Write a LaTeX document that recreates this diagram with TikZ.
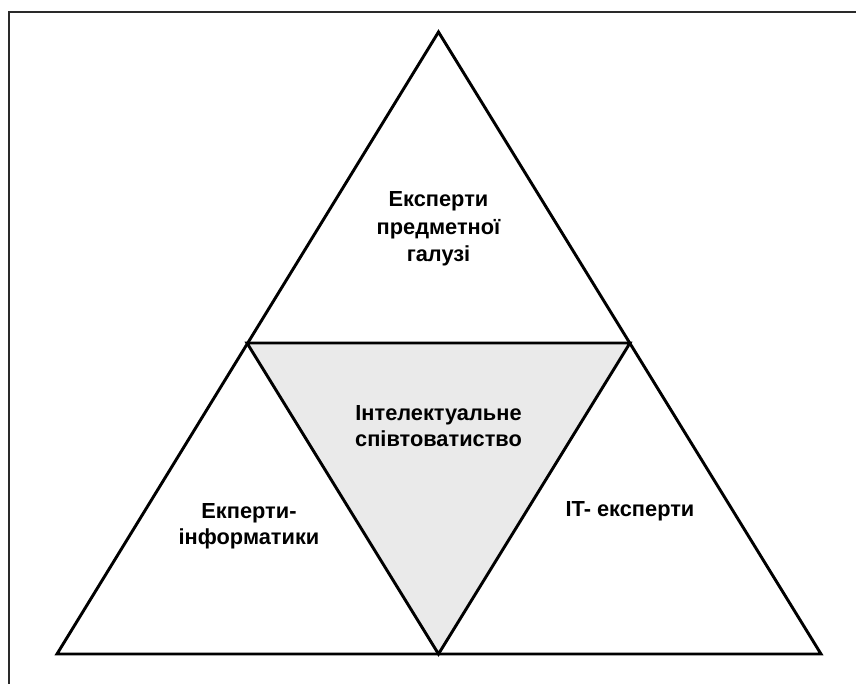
\documentclass[tikz,border=0pt]{standalone}
\usepackage{fontspec}
\setmainfont{Liberation Sans}
\usepackage{xcolor}
\usepackage{tikz}
\definecolor{midGray}{HTML}{EAEAEA}
\definecolor{frameDark}{HTML}{2A2A2A}
\tikzset{
  triedge/.style={draw=black,line width=2.5pt,line join=miter},
  framebar/.style={draw=frameDark,line width=1.8pt},
  grouplabel/.style={align=center,inner sep=0pt,
    font=\fontsize{18.6}{22}\selectfont\bfseries},
  toplabel/.style={grouplabel,font=\fontsize{18.6}{23.4}\selectfont\bfseries}
}
\begin{document}
\begin{tikzpicture}[x=0.03cm,y=-0.03cm]
  \useasboundingbox (0,0) rectangle (856,684);
  % outer frame (only left and top edges fall inside the page)
  \draw[framebar] (9,684) -- (9,12) -- (856,12);

  % triangle corners
  \coordinate (apex) at (438.5,32);
  \coordinate (midL) at (247,343);
  \coordinate (midR) at (630,343);
  \coordinate (botL) at (57,654);
  \coordinate (botC) at (438.5,654);
  \coordinate (botR) at (821,654);

  \fill[midGray] (midL) -- (midR) -- (botC) -- cycle;
  \draw[triedge] (apex) -- (botR) -- (botL) -- cycle;
  \draw[triedge] (midL) -- (midR) -- (botC) -- cycle;

  \node[toplabel] (domain) at (438.5,229) {Експерти\\предметної\\галузі};
  \node[grouplabel] (team) at (438.5,426) {Інтелектуальне\\співтоватиство};
  \node[grouplabel] (infoexp) at (249,526) {Екперти-\\інформатики};
  \node[grouplabel] (itexp) at (630,511) {IT- експерти};
\end{tikzpicture}
\end{document}
